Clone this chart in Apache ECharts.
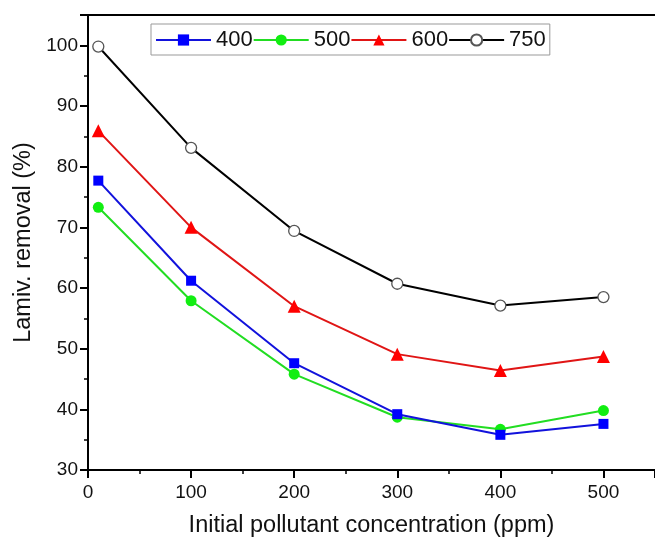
<!DOCTYPE html>
<html>
<head>
<meta charset="utf-8">
<script src="https://cdn.jsdelivr.net/npm/echarts@6/dist/echarts.min.js"></script>
<style>html,body{margin:0;padding:0;background:#fff}#c{width:655px;height:543px}</style>
</head>
<body>
<div id="c"></div>
<script>
var xValues = [10, 100, 200, 300, 400, 500];
var seriesNames = ['400', '500', '600', '750'];
var s400 = [77.7, 61.2, 47.6, 39.2, 35.8, 37.6];
var s500 = [73.3, 57.9, 45.8, 38.7, 36.7, 39.8];
var s600 = [85.9, 70.0, 57.0, 49.1, 46.4, 48.7];
var s750 = [99.8, 83.1, 69.4, 60.7, 57.1, 58.5];
var yTicks = [30, 40, 50, 60, 70, 80, 90, 100];
var xTicks = [0, 100, 200, 300, 400, 500];

function pairs(v){ return xValues.map(function(x,i){ return [x, v[i]]; }); }

var FONT = '"Liberation Sans", Arial, sans-serif';
var chart = echarts.init(document.getElementById('c'));
var styles = [
  {color:'#1212dc', symbol:'rect', size:10, fill:'#0000ff', border:'#0000ff'},
  {color:'#22dd22', symbol:'circle', size:11, fill:'#11ee11', border:'#11ee11'},
  {color:'#e01515', symbol:'triangle', size:13, fill:'#ff0000', border:'#ff0000'},
  {color:'#000000', symbol:'circle', size:11, fill:'#ffffff', border:'#555555'}
];
var data = [s400, s500, s600, s750];
var series = data.map(function(v, i){
  var st = styles[i];
  return {
    name: seriesNames[i], type: 'line', data: pairs(v),
    xAxisIndex: 0, yAxisIndex: 0,
    symbol: st.symbol, symbolSize: st.size,
    lineStyle: {color: st.color, width: 2},
    itemStyle: {color: st.fill, borderColor: st.border, borderWidth: i===3 ? 1.3 : 0},
    z: 10 - i
  };
});
chart.setOption({
  animation: false,
  backgroundColor: '#fff',
  grid: {left: 88, top: 15, right: -3, bottom: 70, show: false},
  legend: {
    left: 151, top: 24, orient: 'horizontal',
    itemWidth: 55, itemHeight: 14, itemGap: 0,
    padding: [5, 4, 4, 4],
    borderColor: '#999', borderWidth: 1,
    textStyle: {fontFamily: FONT, fontSize: 22, color: '#111'},
    data: seriesNames
  },
  xAxis: [{
    type: 'value', min: 0, max: 550, interval: 100, position: 'bottom',
    name: 'Initial pollutant concentration (ppm)', nameLocation: 'middle', nameGap: 44,
    nameTextStyle: {fontFamily: FONT, fontSize: 23.5, color: '#111'},
    axisLine: {onZero: false, lineStyle: {color: '#000', width: 2}},
    axisTick: {show: true, length: 8, inside: false, lineStyle: {color: '#000', width: 2}},
    minorTick: {show: true, splitNumber: 2, length: 4, lineStyle: {color: '#000', width: 1.5}},
    axisLabel: {fontFamily: FONT, fontSize: 19, color: '#111', margin: 13, showMaxLabel: false,
      formatter: function(v){ return xTicks.indexOf(v) >= 0 ? String(v) : ''; }},
    splitLine: {show: false}
  }, {
    type: 'value', min: 0, max: 550, interval: 100, position: 'top',
    axisLine: {onZero: false, lineStyle: {color: '#000', width: 2}},
    axisTick: {show: false}, axisLabel: {show: false}, splitLine: {show: false}
  }],
  yAxis: {
    type: 'value', min: 30, max: 105, interval: 10,
    name: 'Lamiv. removal (%)', nameLocation: 'middle', nameGap: 51,
    nameTextStyle: {fontFamily: FONT, fontSize: 23.5, color: '#111'},
    axisLine: {onZero: false, lineStyle: {color: '#000', width: 2}},
    axisTick: {show: true, length: 8, lineStyle: {color: '#000', width: 2}},
    minorTick: {show: true, splitNumber: 2, length: 4, lineStyle: {color: '#000', width: 1.5}},
    axisLabel: {fontFamily: FONT, fontSize: 19, color: '#111', margin: 10, showMaxLabel: false,
      formatter: function(v){ return yTicks.indexOf(v) >= 0 ? String(v) : ''; }},
    splitLine: {show: false}
  },
  series: series
});
</script>
</body>
</html>
